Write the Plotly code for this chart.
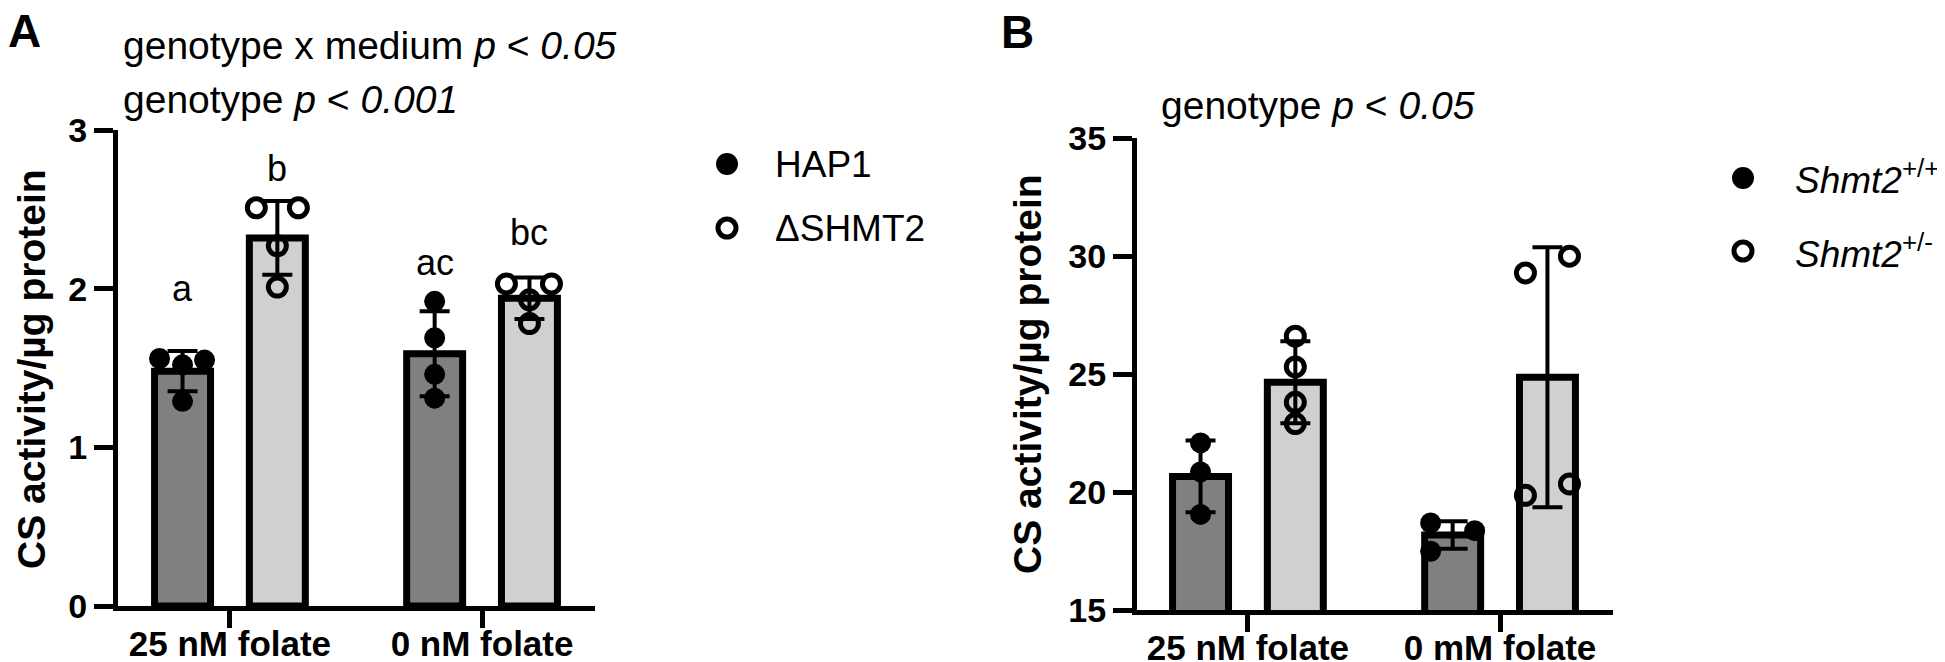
import plotly.graph_objects as go

W, H = 1945, 662
FONT = "Liberation Sans, Arial, Helvetica, sans-serif"

# ---- panel A: HAP1 cells ----
conditions_a = ["25 nM folate", "0 nM folate"]
legend_a = ["HAP1", "ΔSHMT2"]
hap1_mean = [1.48, 1.59]
hap1_sd = [0.127, 0.268]
dshmt2_mean = [2.32, 1.94]
dshmt2_sd = [0.233, 0.131]
hap1_pts = [[1.56, 1.52, 1.55, 1.29], [1.92, 1.69, 1.46, 1.31]]
dshmt2_pts = [[2.51, 2.51, 2.27, 2.01], [2.03, 2.03, 1.93, 1.78]]
letters_a = ["a", "b", "ac", "bc"]
stats_a = ["genotype x medium <i>p</i> &lt; <i>0.05</i>", "genotype <i>p</i> &lt; <i>0.001</i>"]

# ---- panel B: mouse cells ----
conditions_b = ["25 nM folate", "0 mM folate"]
legend_b = ["<i>Shmt2</i><sup>+/+</sup>", "<i>Shmt2</i><sup>+/-</sup>"]
wt_mean = [20.66, 18.18]
wt_sd = [1.52, 0.585]
het_mean = [24.65, 24.86]
het_sd = [1.74, 5.51]
wt_pts = [[22.08, 20.85, 19.05], [18.69, 18.36, 17.49]]
het_pts = [[26.6, 25.3, 23.8, 22.9], [29.28, 29.99, 19.86, 20.34]]
stats_b = ["genotype <i>p</i> &lt; <i>0.05</i>"]

# horizontal scatter of the dots (pixels), like GraphPad
jit_hap1 = [[-23, 0, 22, 0], [0, 0, 0, 0]]
jit_dshmt2 = [[-21, 21, 0, 0], [-23, 22, 0, 0]]
jit_wt = [[0, 0, 0], [-22, 22, -22]]
jit_het = [[0, 0, 0, 0], [-22, 22, -22, 22]]
letter_y = [2.0, 2.757, 2.164, 2.353]

PX = 252.0      # px per x unit
SHIFT = 0.188   # bar offset from group centre
DARK, LIGHT = "#808080", "#d0d0d2"


def px(x):
    return x / W


def py(y):
    return 1 - y / H


fig = go.Figure()


def add_panel(n, means1, sd1, pts1, jit1, means2, sd2, pts2, jit2):
    xa, ya = ("x", "y") if n == 1 else ("x2", "y2")
    for means, sds, pts, jit, sign, fill, filled in [
        (means1, sd1, pts1, jit1, -1, DARK, True),
        (means2, sd2, pts2, jit2, 1, LIGHT, False),
    ]:
        xs = [i + sign * SHIFT for i in range(len(means))]
        fig.add_trace(go.Bar(
            x=xs, y=means, width=0.222, xaxis=xa, yaxis=ya,
            marker=dict(color=fill, line=dict(color="black", width=7)),
            error_y=dict(type="data", array=sds, visible=True, color="black",
                         thickness=4, width=15),
            showlegend=False, hoverinfo="skip"))
        sx, sy = [], []
        for i, grp in enumerate(pts):
            for k, v in enumerate(grp):
                sx.append(xs[i] + jit[i][k] / PX)
                sy.append(v)
        if filled:
            mk = dict(symbol="circle", size=21, color="black")
        else:
            mk = dict(symbol="circle-open", size=18, color="black",
                      line=dict(width=5, color="black"))
        fig.add_trace(go.Scatter(x=sx, y=sy, mode="markers", marker=mk,
                                 xaxis=xa, yaxis=ya, showlegend=False,
                                 cliponaxis=False, hoverinfo="skip"))


add_panel(1, hap1_mean, hap1_sd, hap1_pts, jit_hap1,
          dshmt2_mean, dshmt2_sd, dshmt2_pts, jit_dshmt2)
add_panel(2, wt_mean, wt_sd, wt_pts, jit_wt,
          het_mean, het_sd, het_pts, jit_het)

axis_common = dict(showline=True, linewidth=5, linecolor="black", ticks="outside",
                   tickwidth=5, tickcolor="black", showgrid=False, zeroline=False,
                   automargin=False, fixedrange=True)
tick_font = dict(family=FONT, size=34, color="black", weight="bold")
cat_font = dict(family=FONT, size=35, color="black", weight="bold")

fig.update_layout(
    xaxis=dict(domain=[px(110), px(587)], range=[-0.444, 1.448], tickvals=[0, 1],
               ticktext=conditions_a, ticklen=17, tickfont=cat_font,
               ticklabelstandoff=-14, anchor="y", **axis_common),
    yaxis=dict(domain=[py(598), py(122)], range=[0, 3], tickvals=[0, 1, 2, 3],
               ticklen=19, tickfont=tick_font, anchor="x", **axis_common),
    xaxis2=dict(domain=[px(1129), px(1605)], range=[-0.44, 1.448], tickvals=[0, 1],
                ticktext=conditions_b, ticklen=17, tickfont=cat_font,
                ticklabelstandoff=-14, anchor="y2", **axis_common),
    yaxis2=dict(domain=[py(602), py(130)], range=[15, 35],
                tickvals=[15, 20, 25, 30, 35], ticklen=19, tickfont=tick_font,
                anchor="x2", **axis_common),
    barmode="overlay",
    width=W, height=H,
    margin=dict(l=0, r=0, t=0, b=0),
    paper_bgcolor="white", plot_bgcolor="white",
    template="none",
    showlegend=False,
)

ann = []
# panel letters
ann.append(dict(text="<b>A</b>", x=px(-2), y=py(23), xanchor="left", yanchor="middle",
                font=dict(size=46)))
ann.append(dict(text="<b>B</b>", x=px(991), y=py(24), xanchor="left", yanchor="middle",
                font=dict(size=46)))
# y titles
ytitle = "<b>CS activity/µg protein</b>"
ann.append(dict(text=ytitle, x=px(24), y=py(361), textangle=-90, xanchor="center",
                yanchor="middle", font=dict(size=39)))
ann.append(dict(text=ytitle, x=px(1020), y=py(366), textangle=-90, xanchor="center",
                yanchor="middle", font=dict(size=39)))
# statistics text
for txt, yy in zip(stats_a, [37, 92]):
    ann.append(dict(text=txt, x=px(113), y=py(yy), xanchor="left", yanchor="middle",
                    font=dict(size=39)))
ann.append(dict(text=stats_b[0], x=px(1151), y=py(98), xanchor="left", yanchor="middle",
                font=dict(size=39)))
for a in ann:
    a.update(xref="paper", yref="paper", showarrow=False)
    a["font"].update(family=FONT, color="black")

# significance letters above bars
letter_x = [0 - SHIFT, 0 + SHIFT, 1 - SHIFT, 1 + SHIFT]
for t, lx, ly in zip(letters_a, letter_x, letter_y):
    ann.append(dict(text=t, x=lx, y=ly, xref="x", yref="y", showarrow=False,
                    xanchor="center", yanchor="middle",
                    font=dict(family=FONT, size=36, color="black")))

# legends (drawn by hand to get GraphPad spacing)
shapes = []
for labels, cx, tx, rows in [(legend_a, 719, 765, [156, 220]),
                             (legend_b, 1735, 1785, [170, 243])]:
    for j, (lab, ry) in enumerate(zip(labels, rows)):
        if j == 0:
            r = 11
            shapes.append(dict(type="circle", xref="paper", yref="paper",
                               x0=px(cx - r), x1=px(cx + r), y0=py(ry + r), y1=py(ry - r),
                               fillcolor="black", line=dict(width=0)))
        else:
            r = 9
            shapes.append(dict(type="circle", xref="paper", yref="paper",
                               x0=px(cx - r), x1=px(cx + r), y0=py(ry + r), y1=py(ry - r),
                               fillcolor="rgba(0,0,0,0)",
                               line=dict(width=5, color="black")))
        ann.append(dict(text=lab, x=px(tx), y=py(ry), xref="paper", yref="paper",
                        showarrow=False, xanchor="left", yanchor="middle",
                        font=dict(family=FONT, size=37, color="black")))

fig.update_layout(annotations=ann, shapes=shapes)

fig.write_html("out.html")
